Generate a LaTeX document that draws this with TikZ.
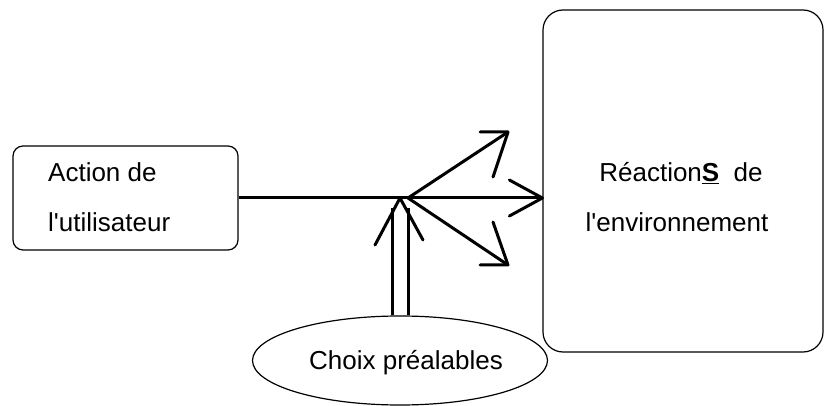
\documentclass[tikz,border=0pt]{standalone}
\usepackage{fontspec}
\setmainfont{Liberation Sans}
\usetikzlibrary{shapes.geometric}
\begin{document}
\begin{tikzpicture}[x=1pt,y=-1pt,
  frame/.style={draw=black,line width=1.2pt,inner sep=0pt},
  txt/.style={inner sep=0pt,anchor=base west,font=\fontsize{26}{30}\selectfont},
  shaft/.style={line width=3pt},
  barb/.style={line width=3pt,line join=round,line cap=round}]
\useasboundingbox (0,0) rectangle (825,406);

% boxes
\node[frame,rounded corners=10pt,minimum width=225pt,minimum height=104pt] (action) at (125.5,198) {};
\node[frame,rounded corners=20pt,minimum width=280pt,minimum height=342pt] (react) at (683,181) {};
\node[frame,ellipse,minimum width=295pt,minimum height=89pt] (choix) at (400,360.5) {};

% labels
\node[txt] (a1) at (48,182) {Action de};
\node[txt] (a2) at (48,232) {l\textquotesingle utilisateur};
\node[txt,anchor=base] (r1) at (681,182) {Réaction\underline{\textbf{S}}\ \ de};
\node[txt,anchor=base] (r2) at (677,232) {l\textquotesingle environnement};
\node[txt,anchor=base] (c1) at (406,369) {Choix préalables};

% hub where the reactions fan out
\coordinate (hub) at (408,198);
\coordinate (tipU) at (508,132);
\coordinate (tipD) at (508,265);
\coordinate (tipV) at (400,198);

% action -> reaction
\draw[shaft] (action.east) -- (action.east -| react.west) coordinate (tipR);
\draw[barb] ([shift={(-33,-18)}]tipR) -- (tipR) -- ([shift={(-33,18)}]tipR);

% fanned reactions
\draw[shaft] (hub) -- (tipU);
\draw[barb] ([shift={(-28,0)}]tipU) -- (tipU) -- ([shift={(-15,45)}]tipU);
\draw[shaft] (hub) -- (tipD);
\draw[barb] ([shift={(-28,0)}]tipD) -- (tipD) -- ([shift={(-15,-43)}]tipD);

% prior choices, double shaft
\draw[shaft] ([xshift=-8pt]choix.north) -- ([xshift=-8pt,yshift=-10pt]tipV);
\draw[shaft] ([xshift=8pt]choix.north) -- ([xshift=8pt,yshift=-10pt]tipV);
\draw[barb] ([shift={(-25,47)}]tipV) -- (tipV) -- ([shift={(23,42)}]tipV);
\end{tikzpicture}
\end{document}
